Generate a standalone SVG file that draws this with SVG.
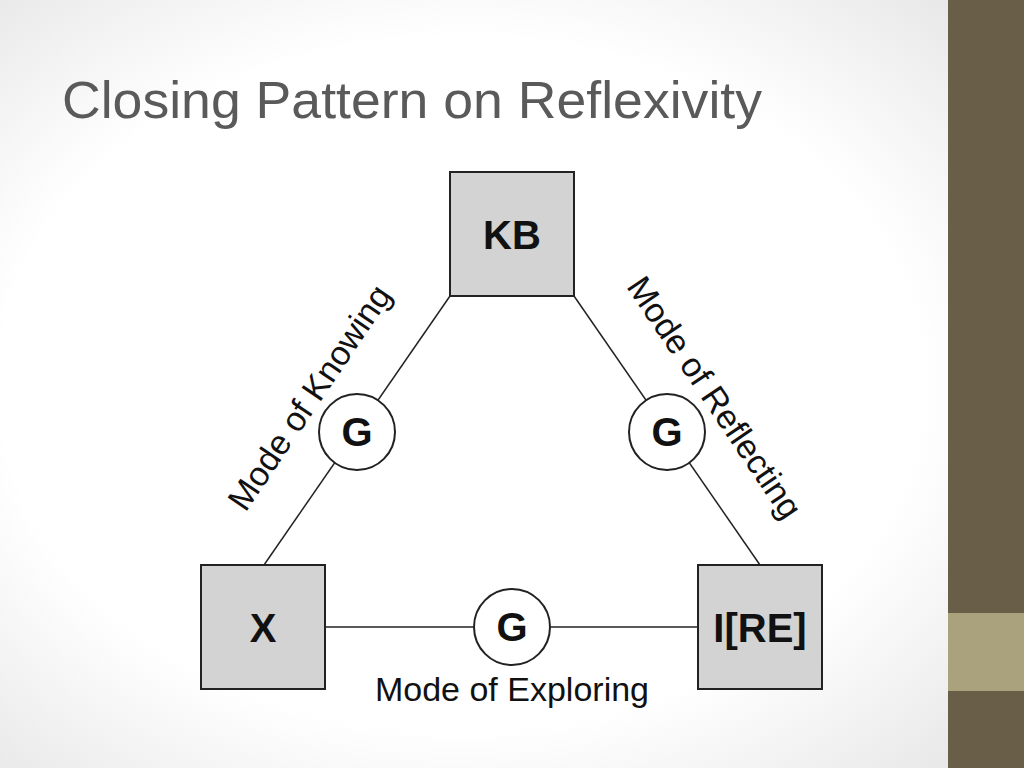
<svg xmlns="http://www.w3.org/2000/svg" width="1024" height="768" viewBox="0 0 1024 768">
<defs>
<radialGradient id="bg" cx="0.45" cy="0.5" r="0.75">
<stop offset="0.6" stop-color="#ffffff"/><stop offset="1" stop-color="#e2e2e2"/>
</radialGradient>
</defs>
<style>
.box{fill:#d3d3d3;stroke:#222;stroke-width:2}
.c{fill:#fff;stroke:#222;stroke-width:2}
.ln{stroke:#222;stroke-width:1.5;fill:none}
.t{font-family:"Liberation Sans",Arial,sans-serif;font-weight:bold;font-size:40px;fill:#111;text-anchor:middle}
.l{font-family:"Liberation Sans",Arial,sans-serif;font-size:34px;fill:#111;text-anchor:middle}
</style>
<rect width="1024" height="768" fill="url(#bg)"/>
<rect x="948" y="0" width="76" height="768" fill="#695e48"/>
<rect x="948" y="613" width="76" height="78" fill="#a9a27c"/>
<text x="62" y="118" font-family="Liberation Sans,Arial,sans-serif" font-size="52" fill="#5a5a5a" textLength="700" lengthAdjust="spacingAndGlyphs">Closing Pattern on Reflexivity</text>
<g id="connectors">
<line class="ln" x1="450" y1="296" x2="264" y2="565"/>
<line class="ln" x1="574" y1="296" x2="760" y2="565"/>
<line class="ln" x1="325" y1="627" x2="698" y2="627"/>
</g>
<g id="KB"><rect class="box" x="450" y="172" width="124" height="124"/><text class="t" x="512" y="249">KB</text></g>
<g id="X"><rect class="box" x="201" y="565" width="124" height="124"/><text class="t" x="263" y="642">X</text></g>
<g id="IRE"><rect class="box" x="698" y="565" width="124" height="124"/><text class="t" x="760" y="642">I[RE]</text></g>
<g id="G1"><circle class="c" cx="357" cy="432" r="38"/><text class="t" x="357" y="446">G</text></g>
<g id="G2"><circle class="c" cx="667" cy="432" r="38"/><text class="t" x="667" y="446">G</text></g>
<g id="G3"><circle class="c" cx="512" cy="627" r="38"/><text class="t" x="512" y="641">G</text></g>
<text class="l" transform="translate(319,404) rotate(-56)">Mode of Knowing</text>
<text class="l" transform="translate(705,404) rotate(56)">Mode of Reflecting</text>
<text class="l" x="512" y="701">Mode of Exploring</text>
</svg>
